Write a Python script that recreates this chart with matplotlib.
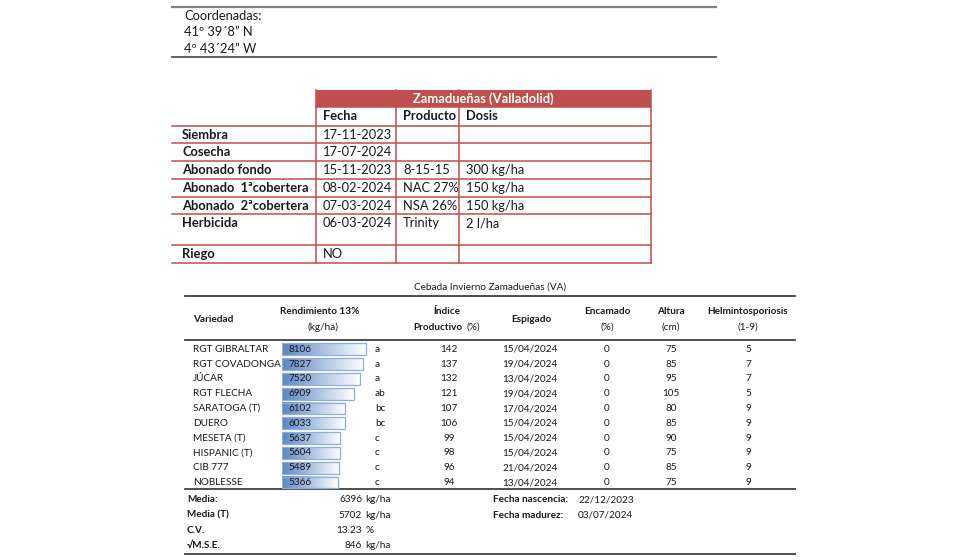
import matplotlib
matplotlib.use("Agg")
import matplotlib.pyplot as plt
import numpy as np
from matplotlib.colors import LinearSegmentedColormap

plt.rcParams['font.family'] = ['Lato', 'DejaVu Sans']

# --- data -------------------------------------------------------------
coords = ["Coordenadas:", "41º 39´8” N", "4º 43´24” W"]

site_title = "Zamadueñas (Valladolid)"
op_cols = ["Fecha", "Producto", "Dosis"]
op_labels = ["Siembra", "Cosecha", "Abonado fondo", "Abonado  1ªcobertera",
             "Abonado  2ªcobertera", "Herbicida", "Riego"]
op_fecha = ["17-11-2023", "17-07-2024", "15-11-2023", "08-02-2024",
            "07-03-2024", "06-03-2024", "NO"]
op_producto = ["", "", "8-15-15", "NAC 27%", "NSA 26%", "Trinity", ""]
op_dosis = ["", "", "300 kg/ha", "150 kg/ha", "150 kg/ha", "2 l/ha", ""]

trial_title = "Cebada Invierno Zamadueñas (VA)"
varieties = ["RGT GIBRALTAR", "RGT COVADONGA", "JÚCAR", "RGT FLECHA", "SARATOGA (T)",
             "DUERO", "MESETA (T)", "HISPANIC (T)", "CIB 777", "NOBLESSE"]
yield_kg = [8106, 7827, 7520, 6909, 6102, 6033, 5637, 5604, 5489, 5366]
groups = ["a", "a", "a", "ab", "bc", "bc", "c", "c", "c", "c"]
index_prod = [142, 137, 132, 121, 107, 106, 99, 98, 96, 94]
heading = ["15/04/2024", "19/04/2024", "13/04/2024", "19/04/2024", "17/04/2024",
           "15/04/2024", "15/04/2024", "15/04/2024", "21/04/2024", "13/04/2024"]
lodging = [0, 0, 0, 0, 0, 0, 0, 0, 0, 0]
height_cm = [75, 85, 95, 105, 80, 85, 90, 75, 85, 75]
helmin = [5, 7, 7, 5, 9, 9, 9, 9, 9, 9]

stats_labels = ["Media:", "Media (T)", "C.V.", "√M.S.E."]
stats_values = ["6396", "5702", "13.23", "846"]
stats_units = ["kg/ha", "kg/ha", "%", "kg/ha"]
dates_labels = ["Fecha nascencia:", "Fecha madurez:"]
dates_values = ["22/12/2023", "03/07/2024"]

RED = "#C0504D"
DARK = "#1a1a1a"
FS_TOP = 9.3
FS = 7.2

fig = plt.figure(figsize=(9.8, 5.6), dpi=100)
ax = fig.add_axes([0, 0, 1, 1])
ax.set_xlim(0, 980)
ax.set_ylim(560, 0)
ax.axis("off")

# --- coordinates block -----------------------------------------------
ax.plot([172, 716], [7, 7], color="#808080", lw=1.6)
ax.plot([172, 716], [57, 57], color="#555555", lw=1.3)
for i, t in enumerate(coords):
    ax.text(184, 16 + 16.5 * i, t, fontsize=FS_TOP, va="center", color=DARK)

# --- operations table ------------------------------------------------
cx = [316, 396, 459, 651]
ax.add_patch(plt.Rectangle((cx[0], 90), cx[-1] - cx[0], 17, color=RED, lw=0))
ax.text((cx[0] + cx[-1]) / 2, 99, site_title, color="white", fontsize=FS_TOP,
        fontweight="bold", ha="center", va="center")
rows = [107, 126, 143, 161, 179, 197, 214, 245, 263]
for y in rows:
    x0 = cx[0] if y == 107 else 172
    ax.plot([x0, cx[-1]], [y, y], color=RED, lw=1.1)
for x in cx:
    ax.plot([x, x], [90, rows[-1]], color=RED, lw=1.1)
for j, c in enumerate(op_cols):
    ax.text(cx[j] + 7, 116.5, c, fontsize=FS_TOP, fontweight="bold", va="center", color=DARK)
for i, lab in enumerate(op_labels):
    y = rows[i + 1] + 9
    ax.text(182, y, lab, fontsize=FS_TOP, fontweight="bold", va="center", color=DARK)
    for j, col in enumerate([op_fecha, op_producto, op_dosis]):
        ax.text(cx[j] + 7, y, col[i], fontsize=FS_TOP, va="center", color=DARK)

# --- trial table -----------------------------------------------------
L, R = 185, 795
ax.text(490, 287, trial_title, fontsize=FS, ha="center", va="center", color=DARK)
for y in (296, 340, 489, 554):
    ax.plot([L, R], [y, y], color="#404040", lw=1.3)

hk = dict(fontsize=FS, fontweight="bold", ha="center", va="center", color=DARK)
nk = dict(fontsize=FS, ha="center", va="center", color=DARK)
ax.text(193, 320, "Variedad", fontsize=FS, fontweight="bold", va="center", color=DARK)
ax.text(320, 311, "Rendimiento 13%", **hk)
ax.text(323, 327, "(kg/ha)", **nk)
ax.text(447, 311, "Índice", **hk)
ax.text(438, 327, "Productivo", **hk)
ax.text(473, 327, "(%)", **nk)
ax.text(531, 320, "Espigado", **hk)
ax.text(607, 311, "Encamado", **hk)
ax.text(607, 327, "(%)", **nk)
ax.text(671, 311, "Altura", **hk)
ax.text(671, 327, "(cm)", **nk)
ax.text(748, 311, "Helmintosporiosis", **hk)
ax.text(748, 327, "(1-9)", **nk)

y0, dy = 349.3, 14.8
n = len(varieties)
for i in range(n):
    y = y0 + dy * i
    ax.text(193, y, varieties[i], fontsize=FS, va="center", color=DARK)
    ax.text(375, y, groups[i], fontsize=FS, va="center", color=DARK)
    ax.text(449, y, str(index_prod[i]), **nk)
    ax.text(530, y, heading[i], **nk)
    ax.text(607, y, str(lodging[i]), **nk)
    ax.text(671, y, str(height_cm[i]), **nk)
    ax.text(748, y, str(helmin[i]), **nk)

# data bars in their own axes
px_per_unit = 84 / 8106
bw_px = 100
top_px, bot_px = y0 - dy / 2, y0 + dy * (n - 0.5)
bx = fig.add_axes([282 / 980, 1 - bot_px / 560, bw_px / 980, (bot_px - top_px) / 560])
bx.axis("off")
cmap = LinearSegmentedColormap.from_list("bar", ["#5A86C4", "#FFFFFF"])
grad = np.linspace(0, 1, 256).reshape(1, -1)
bh = 0.8
for i, v in enumerate(yield_kg):
    bx.imshow(grad, cmap=cmap, aspect="auto", extent=(0, v, i + bh / 2, i - bh / 2),
              interpolation="bilinear")
bx.barh(range(n), yield_kg, height=bh, fill=False, edgecolor="#8FAEDA", lw=0.9)
for i, v in enumerate(yield_kg):
    bx.text(650, i, str(v), fontsize=FS, va="center", color=DARK)
bx.set_xlim(0, bw_px / px_per_unit)
bx.set_ylim(n - 0.5, -0.5)

# --- summary ---------------------------------------------------------
for i, lab in enumerate(stats_labels):
    y = 500 + 15.3 * i
    ax.text(187, y, lab, fontsize=FS, fontweight="bold", va="center", color=DARK)
    ax.text(362, y, stats_values[i], fontsize=FS, ha="right", va="center", color=DARK)
    ax.text(365, y, stats_units[i], fontsize=FS, va="center", color=DARK)
for i, lab in enumerate(dates_labels):
    y = 500 + 15.3 * i
    ax.text(493, y, lab, fontsize=FS, fontweight="bold", va="center", color=DARK)
    ax.text(578, y, dates_values[i], fontsize=FS, va="center", color=DARK)

fig.savefig("out.png", dpi=100)
